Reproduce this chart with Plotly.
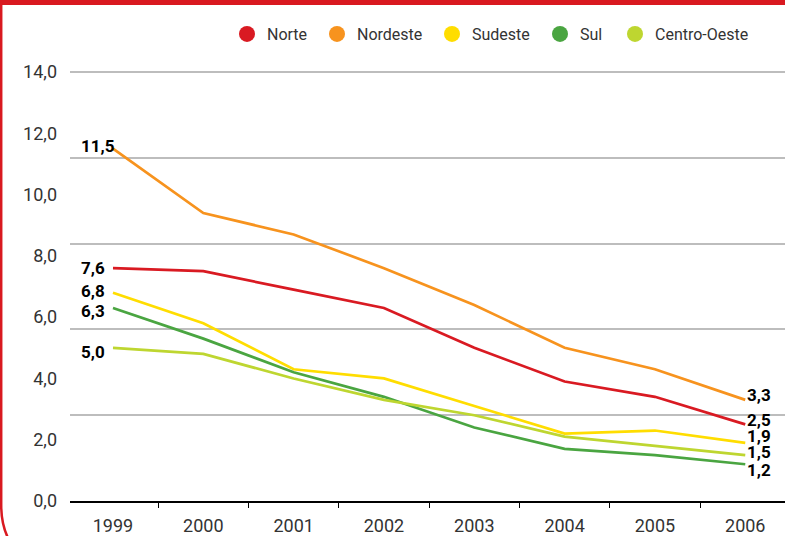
import plotly.graph_objects as go

years = ["1999", "2000", "2001", "2002", "2003", "2004", "2005", "2006"]
series_names = ["Norte", "Nordeste", "Sudeste", "Sul", "Centro-Oeste"]
norte = [7.6, 7.5, 6.9, 6.3, 5.0, 3.9, 3.4, 2.5]
nordeste = [11.5, 9.4, 8.7, 7.6, 6.4, 5.0, 4.3, 3.3]
sudeste = [6.8, 5.8, 4.3, 4.0, 3.1, 2.2, 2.3, 1.9]
sul = [6.3, 5.3, 4.2, 3.4, 2.4, 1.7, 1.5, 1.2]
centro_oeste = [5.0, 4.8, 4.0, 3.3, 2.8, 2.1, 1.8, 1.5]
values = [norte, nordeste, sudeste, sul, centro_oeste]
colors = ["#D91A22", "#F7931E", "#FFDD00", "#4AA541", "#BED630"]
y_ticks = [0, 2, 4, 6, 8, 10, 12, 14]
grid_vals = [0, 2.8, 5.6, 8.4, 11.2, 14.0]

# label vertical nudges (pixels) to keep end labels readable
left_shift = [0, 3, 2, -3, -4]
right_shift = [4, 5, 7, -6, 3]
# legend symbol centres (pixels)
legend_px = [248, 338, 453, 561, 636]

W, H = 785, 536
ML, MR, MT, MB = 70, 0, 69, 35
PW, PH = W - ML - MR, H - MT - MB
Y_TOP = 14.1


def fmt(v):
    return f"{v:.1f}".replace(".", ",")


def px_x(p):
    return (p - ML) / PW


def px_y(p):
    return (H - MB - p) / PH


fig = go.Figure()

# invisible trace so the grid axis is rendered
fig.add_trace(go.Scatter(x=[years[0]], y=[0], yaxis="y2", mode="markers",
                         marker=dict(opacity=0), showlegend=False, hoverinfo="skip"))

for name, vals, c in zip(series_names, values, colors):
    fig.add_trace(go.Scatter(x=years, y=vals, mode="lines", name=name,
                             line=dict(color=c, width=2.7), showlegend=False))

legend_layouts = {}
for i, (name, c) in enumerate(zip(series_names, colors)):
    key = "legend" if i == 0 else f"legend{i + 1}"
    fig.add_trace(go.Scatter(x=[None], y=[None], mode="markers", name=name, legend=key,
                             marker=dict(color=c, size=18)))
    legend_layouts[key] = dict(orientation="h", x=px_x(legend_px[i] - 21), y=px_y(34),
                               xanchor="left", yanchor="middle",
                               font=dict(family="Roboto", size=16, color="#333333"),
                               itemclick=False, itemdoubleclick=False,
                               bgcolor="rgba(0,0,0,0)")

annotations = []
for vals, ls, rs in zip(values, left_shift, right_shift):
    annotations.append(dict(x=0, y=vals[0], xref="x", yref="y", text="<b>" + fmt(vals[0]) + "</b>",
                            showarrow=False, xanchor="left", xshift=-34, yshift=ls,
                            font=dict(family="Roboto", size=17, color="#000000")))
    annotations.append(dict(x=len(years) - 1, y=vals[-1], xref="x", yref="y",
                            text="<b>" + fmt(vals[-1]) + "</b>",
                            showarrow=False, xanchor="left", xshift=0, yshift=rs,
                            font=dict(family="Roboto", size=17, color="#000000")))

red = "#D91920"
shapes = [
    dict(type="rect", xref="paper", yref="paper", x0=px_x(0), x1=px_x(W), y0=px_y(0), y1=px_y(5),
         fillcolor=red, line=dict(width=0), layer="above"),
    dict(type="path", xref="paper", yref="paper",
         path=f"M {px_x(1.2)},{px_y(3)} L {px_x(1.2)},{px_y(505)} Q {px_x(1.2)},{px_y(525)} {px_x(9)},{px_y(540)}",
         line=dict(color=red, width=2.5), layer="above"),
]

fig.update_layout(
    width=W, height=H,
    margin=dict(l=ML, r=MR, t=MT, b=MB, autoexpand=False),
    paper_bgcolor="white", plot_bgcolor="white",
    font=dict(family="Roboto", size=17, color="#333333"),
    showlegend=True,
    xaxis=dict(type="category", categoryorder="array", categoryarray=years,
               range=[-0.476, 7.44], tickson="boundaries", ticks="outside", ticklen=5,
               tickcolor="#000000", tickwidth=1.2, showline=True, linecolor="#000000",
               linewidth=1.5, showgrid=False, zeroline=False, fixedrange=True,
               ticklabelstandoff=8, tickfont=dict(family="Roboto", size=18, color="#333333")),
    yaxis=dict(range=[0, Y_TOP], tickvals=y_ticks, ticktext=[fmt(v) for v in y_ticks],
               showgrid=False, zeroline=False, showline=False, ticks="", fixedrange=True,
               ticklabelstandoff=12, tickfont=dict(family="Roboto", size=18, color="#333333")),
    yaxis2=dict(range=[0, Y_TOP], overlaying="y", side="left", tickvals=grid_vals,
                showticklabels=False, showgrid=True, gridcolor="#BDBDBD", gridwidth=1.5,
                zeroline=False, showline=False, ticks="", fixedrange=True),
    annotations=annotations,
    shapes=shapes,
    **legend_layouts,
)

fig.write_html("out.html", config={"displayModeBar": False},
               post_script="document.body.style.margin='0';document.body.style.padding='0';")
